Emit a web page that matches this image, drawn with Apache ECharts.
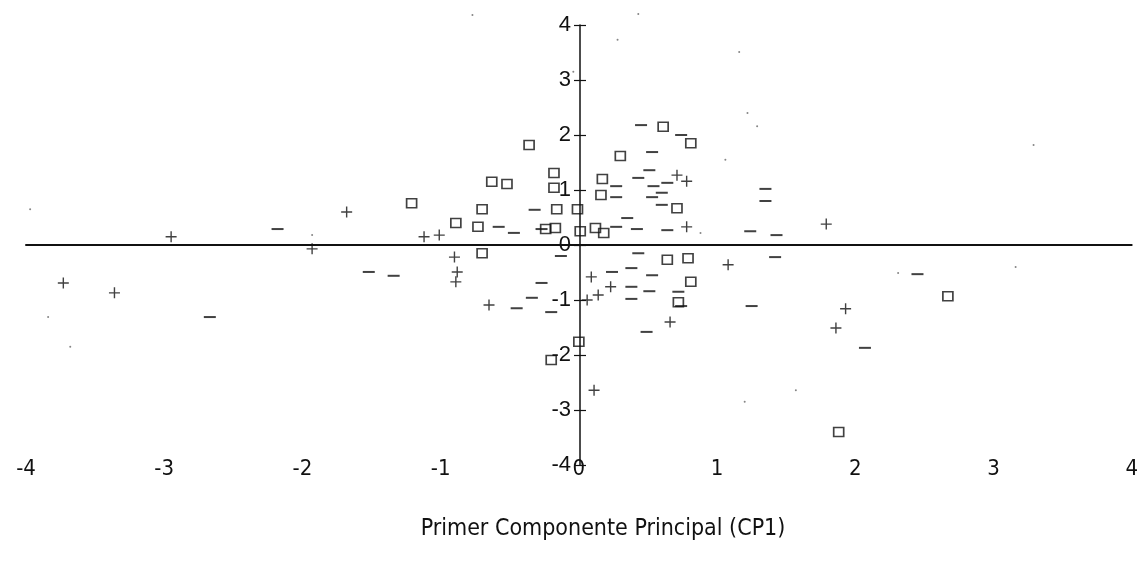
<!DOCTYPE html>
<html>
<head>
<meta charset="utf-8">
<title>Primer Componente Principal (CP1)</title>
<script src="https://cdn.jsdelivr.net/npm/echarts@6/dist/echarts.min.js"></script>
<style>
  html, body { margin: 0; padding: 0; background: #fff; }
  #chart { width: 1141px; height: 579px; }
</style>
</head>
<body>
<div id="chart"></div>
<script>
// Scores on the first two principal components, grouped by marker type.
const squarePoints = [
  [-0.36, 1.82], [-0.18, 1.31], [-0.18, 1.04], [-0.63, 1.15], [-0.52, 1.11],
  [-1.21, 0.76], [-0.70, 0.65], [-0.16, 0.65], [-0.01, 0.65], [-0.89, 0.40],
  [-0.73, 0.33], [-0.24, 0.29], [-0.17, 0.31], [0.01, 0.25], [0.12, 0.31],
  [0.18, 0.22], [-0.70, -0.15], [0.17, 1.20], [0.16, 0.91], [0.61, 2.15],
  [0.81, 1.85], [0.30, 1.62], [0.71, 0.67], [0.64, -0.27], [0.79, -0.24],
  [0.81, -0.67], [0.72, -1.04], [0.00, -1.76], [-0.20, -2.09], [2.67, -0.93],
  [1.88, -3.40]
];

const plusPoints = [
  [-3.73, -0.69], [-3.36, -0.87], [-2.95, 0.15], [-1.93, -0.07], [-1.68, 0.60],
  [-1.12, 0.15], [-1.01, 0.18], [-0.90, -0.22], [-0.88, -0.49], [-0.89, -0.67],
  [-0.65, -1.09], [0.78, 1.16], [0.71, 1.27], [0.78, 0.33], [0.09, -0.58],
  [0.06, -1.00], [0.14, -0.91], [0.23, -0.76], [1.08, -0.36], [1.79, 0.38],
  [1.93, -1.16], [1.86, -1.51], [0.11, -2.64], [0.66, -1.40]
];

const dashPoints = [
  [-2.18, 0.29], [-2.67, -1.31], [-1.52, -0.49], [-1.34, -0.56], [-0.32, 0.64],
  [-0.58, 0.33], [-0.47, 0.22], [-0.27, 0.29], [-0.13, -0.20], [-0.27, -0.69],
  [-0.34, -0.96], [-0.20, -1.22], [-0.45, -1.15], [0.45, 2.18], [0.74, 2.00],
  [0.53, 1.69], [0.51, 1.36], [0.43, 1.22], [0.54, 1.07], [0.64, 1.13],
  [0.27, 1.07], [0.27, 0.87], [0.53, 0.87], [0.60, 0.95], [0.60, 0.73],
  [1.35, 1.02], [1.35, 0.80], [0.35, 0.49], [0.27, 0.33], [0.42, 0.29],
  [0.64, 0.27], [1.24, 0.25], [1.43, 0.18], [0.43, -0.15], [0.38, -0.42],
  [1.42, -0.22], [0.24, -0.49], [0.53, -0.55], [0.38, -0.76], [0.51, -0.84],
  [0.72, -0.85], [0.38, -0.98], [0.74, -1.11], [1.25, -1.11], [0.49, -1.58],
  [2.45, -0.53], [2.07, -1.87]
];

const dotPoints = [
  [-3.97, 0.65], [-3.84, -1.31], [-3.68, -1.85], [-1.93, 0.18], [0.43, 4.20],
  [0.28, 3.73], [1.16, 3.51], [-0.04, 3.15], [-0.77, 4.18], [1.22, 2.40],
  [1.29, 2.16], [1.06, 1.55], [3.29, 1.82], [3.16, -0.40], [2.31, -0.51],
  [1.57, -2.64], [1.20, -2.85], [0.88, 0.22]
];

const xTicks = [-4, -3, -2, -1, 0, 1, 2, 3, 4];
const yTicks = [-4, -3, -2, -1, 0, 1, 2, 3, 4];
const xTitle = 'Primer Componente Principal (CP1)';

const ink = '#111';
const plotFont = "'Liberation Sans', Arial, sans-serif";
const narrowFont = "'Liberation Sans Narrow', 'DejaVu Sans Condensed', 'Liberation Sans', sans-serif";

// Plot frame in pixels; the vertical axis is drawn through x = 0.
const gridLeft = 26, gridRight = 7;
const plotWidth = 1141 - gridLeft - gridRight;
const xMin = xTicks[0], xMax = xTicks[xTicks.length - 1];
const yAxisShift = -plotWidth * (0 - xMin) / (xMax - xMin);

const chart = echarts.init(document.getElementById('chart'), null, { renderer: 'canvas' });

const baseX = { type: 'value', min: xMin, max: xMax, interval: 1, splitLine: { show: false } };
const baseY = { type: 'value', min: yTicks[0], max: yTicks[yTicks.length - 1], interval: 1, splitLine: { show: false } };

chart.setOption({
  animation: false,
  backgroundColor: '#fff',
  title: {
    text: xTitle,
    left: 598,
    top: 513,
    textAlign: 'center',
    textStyle: { fontFamily: narrowFont, fontSize: 23, fontWeight: 'normal', color: ink }
  },
  grid: { left: gridLeft, right: gridRight, top: 25, bottom: 114, containLabel: false },
  xAxis: [
    Object.assign({}, baseX, {
      axisLine: { onZero: true, lineStyle: { color: ink, width: 2 } },
      axisTick: { show: false },
      axisLabel: { show: false }
    }),
    Object.assign({}, baseX, {
      position: 'bottom',
      offset: -9,
      axisLine: { show: false, onZero: false },
      axisTick: { show: false },
      axisLabel: {
        margin: 2,
        fontFamily: narrowFont, fontSize: 22, color: ink,
        formatter: v => String(v)
      }
    })
  ],
  yAxis: [
    Object.assign({}, baseY, {
      position: 'left',
      offset: yAxisShift,
      axisLine: { show: true, onZero: false, lineStyle: { color: ink, width: 1.5 } },
      axisTick: { show: true, inside: false, length: 6, lineStyle: { color: ink, width: 1.2 } },
      axisLabel: { margin: 9, fontFamily: plotFont, fontSize: 22, color: ink }
    }),
    Object.assign({}, baseY, {
      position: 'left',
      offset: yAxisShift,
      axisLine: { show: false, onZero: false },
      axisTick: { show: true, inside: true, length: 6, lineStyle: { color: ink, width: 1.2 } },
      axisLabel: { show: false }
    })
  ],
  series: [
    {
      name: 'cuadrado', type: 'scatter', data: squarePoints, clip: false,
      symbol: 'rect', symbolSize: [10, 9],
      itemStyle: { color: 'rgba(0,0,0,0)', borderColor: ink, borderWidth: 1.6 },
      emphasis: { disabled: true }, silent: true
    },
    {
      name: 'cruz', type: 'scatter', data: plusPoints, clip: false,
      symbol: 'path://M5,0V10M0,5H10', symbolSize: [11, 11],
      itemStyle: { color: 'rgba(0,0,0,0)', borderColor: ink, borderWidth: 1.4 },
      emphasis: { disabled: true }, silent: true
    },
    {
      name: 'guion', type: 'scatter', data: dashPoints, clip: false,
      symbol: 'path://M0,0H10V1.6H0Z', symbolSize: [12, 2],
      itemStyle: { color: ink },
      emphasis: { disabled: true }, silent: true
    },
    {
      name: 'punto', type: 'scatter', data: dotPoints, clip: false,
      symbol: 'circle', symbolSize: 2,
      itemStyle: { color: '#666' },
      emphasis: { disabled: true }, silent: true
    }
  ]
});
</script>
</body>
</html>
